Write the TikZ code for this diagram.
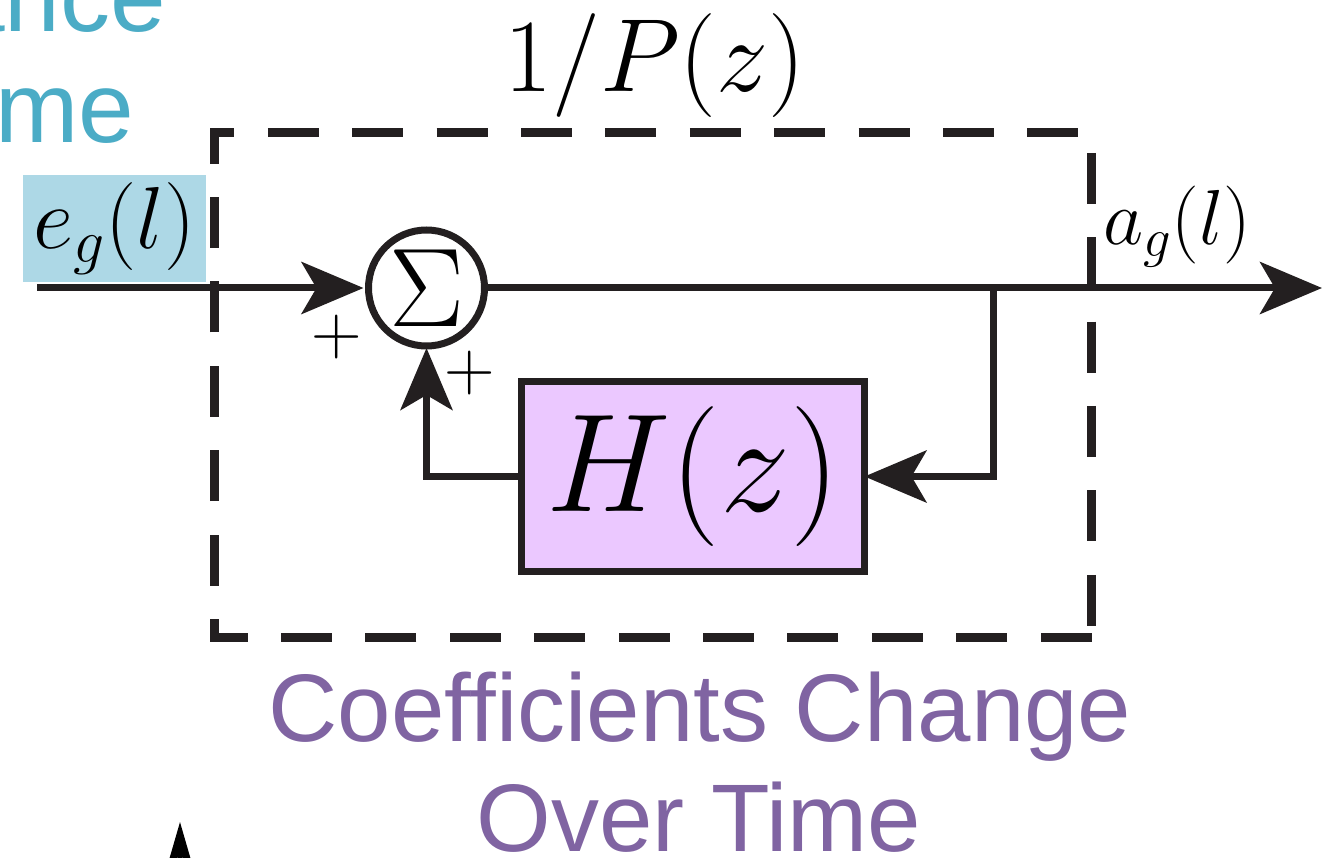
\RequirePackage{fix-cm}
\documentclass[tikz,border=0pt]{standalone}
\usepackage{fontspec}
\newfontfamily\lsans{Liberation Sans}
\usetikzlibrary{arrows.meta}
\definecolor{ink}{RGB}{35,31,32}
\definecolor{tealtxt}{RGB}{75,172,198}
\definecolor{purptxt}{RGB}{128,100,162}
\definecolor{eblue}{RGB}{173,216,230}
\definecolor{hviolet}{RGB}{235,200,255}
\begin{document}
\begin{tikzpicture}[x=1pt,y=-1pt,
  wire/.style={draw=ink,line width=7pt},
  bigarrow/.style={-{Stealth[length=62pt,width=52pt,inset=15pt]}},
  txt/.style={inner sep=0pt,outer sep=0pt},
  dashbox/.style={draw=ink,line width=9pt,dash pattern=on 51pt off 33.4pt,line join=miter},
  sans/.style={txt,font=\lsans\fontsize{#1}{#1}\selectfont},
]
\useasboundingbox (0,0) rectangle (1331,858);

% outer dashed box 1/P(z)
\coordinate (dbr) at (1091.5,637);
\coordinate (dbl) at (214.5,637);
\coordinate (dtl) at (214.5,132.5);
\coordinate (dtr) at (1091.5,132.5);
\draw[dashbox] (dbr) -- (dbl) -- (dtl) -- (dtr) -- (dbr);

% nodes
\node[txt,circle,draw=ink,line width=7pt,minimum size=116pt,
      font=\fontsize{112}{116}\selectfont] (sum) at (426.5,288) {$\Sigma$};
\node[txt,draw=ink,line width=7pt,fill=hviolet,minimum width=343pt,minimum height=190pt,
      font=\fontsize{140}{142}\selectfont] (H) at (693,476.5) {$H(z)$};
\node[txt,fill=eblue,minimum width=183pt,minimum height=107pt,
      font=\fontsize{88}{90}\selectfont] (eg) at (114.5,228.5) {$e_g(l)$};
\node[txt,font=\fontsize{78}{80}\selectfont] (ag) at (1177.5,226.5) {$a_g(l)$};
\node[txt,font=\fontsize{104}{110}\selectfont] (P) at (655,65.5) {$1/P(z)$};
\node[txt,font=\fontsize{70}{72}\selectfont] (p1) at (336.7,336.7) {$+$};
\node[txt,font=\fontsize{70}{72}\selectfont] (p2) at (470,373) {$+$};

% texts
\node[sans=100,text=tealtxt,anchor=base east] (t1) at (166,32) {ance};
\node[sans=100,text=tealtxt,anchor=base east] (t2) at (134,143) {me};
\node[sans=96,text=purptxt,anchor=base] (c1) at (700,741.7) {Coefficients Change};
\node[sans=96,text=purptxt,anchor=base] (c2) at (699,851.7) {Over Time};

% connectors
\coordinate (in) at (37,288);
\coordinate (out) at (1322,288);
\coordinate (tap) at (993,288);
\draw[wire,bigarrow] (in) -- ([xshift=-5pt]sum.west);
\draw[wire,bigarrow] (sum.east) -- (out);
\draw[wire,bigarrow] (tap) |- (H.east);
\draw[wire,bigarrow] (H.west) -| ([yshift=-2pt]sum.south);

% small arrow at the bottom left
\coordinate (s0) at (180,920);
\coordinate (s1) at (180,822);
\draw[black,line width=4pt,-{Stealth[length=42pt,width=24pt,inset=8pt]}] (s0) -- (s1);
\end{tikzpicture}
\end{document}
